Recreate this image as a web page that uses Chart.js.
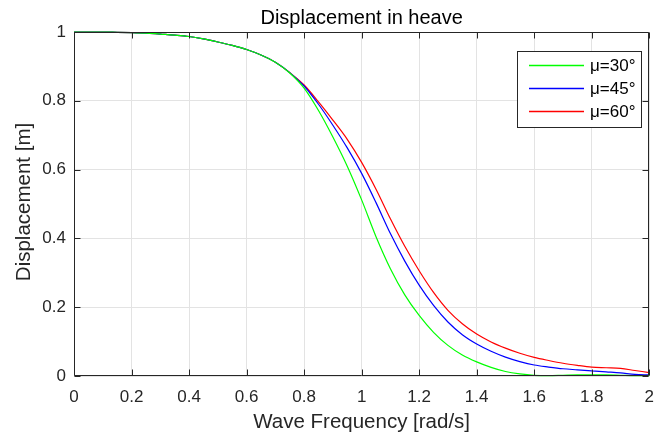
<!DOCTYPE html>
<html>
<head>
<meta charset="utf-8">
<title>Displacement in heave</title>
<script src="https://cdn.jsdelivr.net/npm/chart.js@4/dist/chart.umd.min.js"></script>
<style>
    html, body { margin: 0; padding: 0; background: #fff; }
    #wrap { width: 665px; height: 439px; position: relative; }
</style>
</head>
<body>
<div id="wrap"><canvas id="chartCanvas"></canvas></div>
<script>
// Data
const frequency = [0, 0.05, 0.1, 0.15, 0.2, 0.25, 0.3, 0.35, 0.4, 0.45, 0.5, 0.55, 0.6, 0.65, 0.7, 0.75,
    0.8, 0.85, 0.9, 0.95, 1.0, 1.05, 1.1, 1.15, 1.2, 1.25, 1.3, 1.35, 1.4, 1.45, 1.5, 1.55, 1.6, 1.65,
    1.7, 1.75, 1.8, 1.85, 1.9, 1.95, 2.0];

const mu30 = [1, 1, 1, 0.999, 0.998, 0.997, 0.994, 0.991, 0.987, 0.980, 0.971, 0.961, 0.949, 0.933, 0.912, 0.881,
    0.837, 0.772, 0.695, 0.610, 0.512, 0.405, 0.312, 0.236, 0.176, 0.127, 0.089, 0.061, 0.041, 0.025, 0.013, 0.006,
    0.002, 0.001, 0.002, 0.003, 0.003, 0.003, 0.002, 0.001, 0.001];

const mu45 = [1, 1, 1, 0.999, 0.998, 0.997, 0.994, 0.991, 0.987, 0.980, 0.971, 0.961, 0.949, 0.933, 0.912, 0.882,
    0.843, 0.790, 0.729, 0.663, 0.589, 0.504, 0.414, 0.334, 0.264, 0.205, 0.157, 0.120, 0.093, 0.072, 0.055, 0.042,
    0.032, 0.026, 0.021, 0.018, 0.015, 0.012, 0.009, 0.005, 0.003];

const mu60 = [1, 1, 1, 0.999, 0.998, 0.997, 0.994, 0.991, 0.987, 0.980, 0.971, 0.961, 0.949, 0.933, 0.912, 0.882,
    0.846, 0.797, 0.744, 0.688, 0.621, 0.543, 0.457, 0.377, 0.306, 0.243, 0.191, 0.152, 0.122, 0.099, 0.081, 0.066,
    0.054, 0.045, 0.037, 0.031, 0.026, 0.024, 0.022, 0.016, 0.010];

const seriesLabels = ['\u03bc=30\u00b0', '\u03bc=45\u00b0', '\u03bc=60\u00b0'];
const seriesColors = ['#00ff00', '#0000ff', '#ff0000'];

const xTicks = [0, 0.2, 0.4, 0.6, 0.8, 1, 1.2, 1.4, 1.6, 1.8, 2];
const yTicks = [0, 0.2, 0.4, 0.6, 0.8, 1];

const chartTitle = 'Displacement in heave';
const xTitle = 'Wave Frequency [rad/s]';
const yTitle = 'Displacement [m]';

const FONT = '"Liberation Sans", Arial, Helvetica, sans-serif';
const AXIS_COLOR = '#262626';

// Draws the MATLAB-like box, inward ticks, titles and the legend
const matlabFrame = {
    id: 'matlabFrame',
    afterDatasetsDraw(chart) {
        const ctx = chart.ctx;
        const area = chart.chartArea;
        const xs = chart.scales.x;
        const ys = chart.scales.y;
        const L = Math.round(area.left) + 0.5;
        const R = Math.round(area.right) - 0.5;
        const T = Math.round(area.top) + 0.5;
        const B = Math.round(area.bottom) - 0.5;
        const tick = 6;

        ctx.save();
        ctx.strokeStyle = AXIS_COLOR;
        ctx.lineWidth = 1;
        ctx.beginPath();
        ctx.rect(L, T, R - L, B - T);
        xTicks.forEach(v => {
            const px = Math.round(xs.getPixelForValue(v)) + 0.5;
            ctx.moveTo(px, B); ctx.lineTo(px, B - tick);
            ctx.moveTo(px, T); ctx.lineTo(px, T + tick);
        });
        yTicks.forEach(v => {
            const py = Math.round(ys.getPixelForValue(v)) + 0.5;
            ctx.moveTo(L, py); ctx.lineTo(L + tick, py);
            ctx.moveTo(R, py); ctx.lineTo(R - tick, py);
        });
        ctx.stroke();

        // titles
        const cx = (area.left + area.right) / 2;
        ctx.fillStyle = '#000';
        ctx.textAlign = 'center';
        ctx.textBaseline = 'alphabetic';
        ctx.font = '20px ' + FONT;
        ctx.fillText(chartTitle, cx, 24);

        ctx.fillStyle = AXIS_COLOR;
        ctx.font = '20.5px ' + FONT;
        ctx.fillText(xTitle, cx, 428);

        ctx.save();
        ctx.translate(29.5, (area.top + area.bottom) / 2 - 2);
        ctx.rotate(-Math.PI / 2);
        ctx.fillText(yTitle, 0, 0);
        ctx.restore();

        // legend box
        const bx = 517.5, by = 51.5, bw = 124, bh = 76;
        ctx.fillStyle = '#fff';
        ctx.fillRect(bx, by, bw, bh);
        ctx.strokeStyle = AXIS_COLOR;
        ctx.strokeRect(bx, by, bw, bh);
        ctx.font = '17px ' + FONT;
        ctx.textAlign = 'left';
        ctx.textBaseline = 'middle';
        const rows = [65.5, 88.5, 111.5];
        seriesLabels.forEach((label, i) => {
            ctx.strokeStyle = seriesColors[i];
            ctx.lineWidth = 1.6;
            ctx.beginPath();
            ctx.moveTo(529, rows[i]);
            ctx.lineTo(584, rows[i]);
            ctx.stroke();
            ctx.fillStyle = '#000';
            ctx.fillText(label, 590, rows[i] + 1);
        });
        ctx.restore();
    }
};

function buildSeries(values) {
    return frequency.map((f, i) => ({ x: f, y: values[i] }));
}

const ctx = document.getElementById('chartCanvas').getContext('2d');
const chart = new Chart(ctx, {
    type: 'line',
    data: {
        datasets: [mu30, mu45, mu60].map((values, i) => ({
            label: seriesLabels[i],
            data: buildSeries(values),
            borderColor: seriesColors[i],
            borderWidth: 1.2,
            pointRadius: 0,
            cubicInterpolationMode: 'monotone',
            fill: false,
            clip: 3
        }))
    },
    options: {
        responsive: true,
        maintainAspectRatio: false,
        animation: false,
        layout: { padding: { top: 32, right: 6, left: 0, bottom: 0 } },
        plugins: {
            legend: { display: false },
            title: { display: false },
            tooltip: { enabled: false }
        },
        scales: {
            x: {
                type: 'linear',
                min: 0,
                max: 2,
                afterBuildTicks: (scale) => { scale.ticks = xTicks.map(v => ({ value: v })); },
                afterFit: (scale) => { scale.height = 63; },
                border: { display: false },
                grid: { color: '#e3e3e3', lineWidth: 1, drawTicks: false },
                ticks: {
                    color: AXIS_COLOR,
                    font: { family: FONT, size: 17 },
                    padding: 11,
                    maxRotation: 0,
                    autoSkip: false,
                    callback: (v) => String(v)
                }
            },
            y: {
                min: 0,
                max: 1,
                afterBuildTicks: (scale) => { scale.ticks = yTicks.map(v => ({ value: v })); },
                afterFit: (scale) => { scale.width = 74; },
                border: { display: false },
                grid: { color: '#e3e3e3', lineWidth: 1, drawTicks: false },
                ticks: {
                    color: AXIS_COLOR,
                    font: { family: FONT, size: 17 },
                    padding: 8,
                    autoSkip: false,
                    callback: (v) => String(v)
                }
            }
        }
    },
    plugins: [matlabFrame]
});
</script>
</body>
</html>
